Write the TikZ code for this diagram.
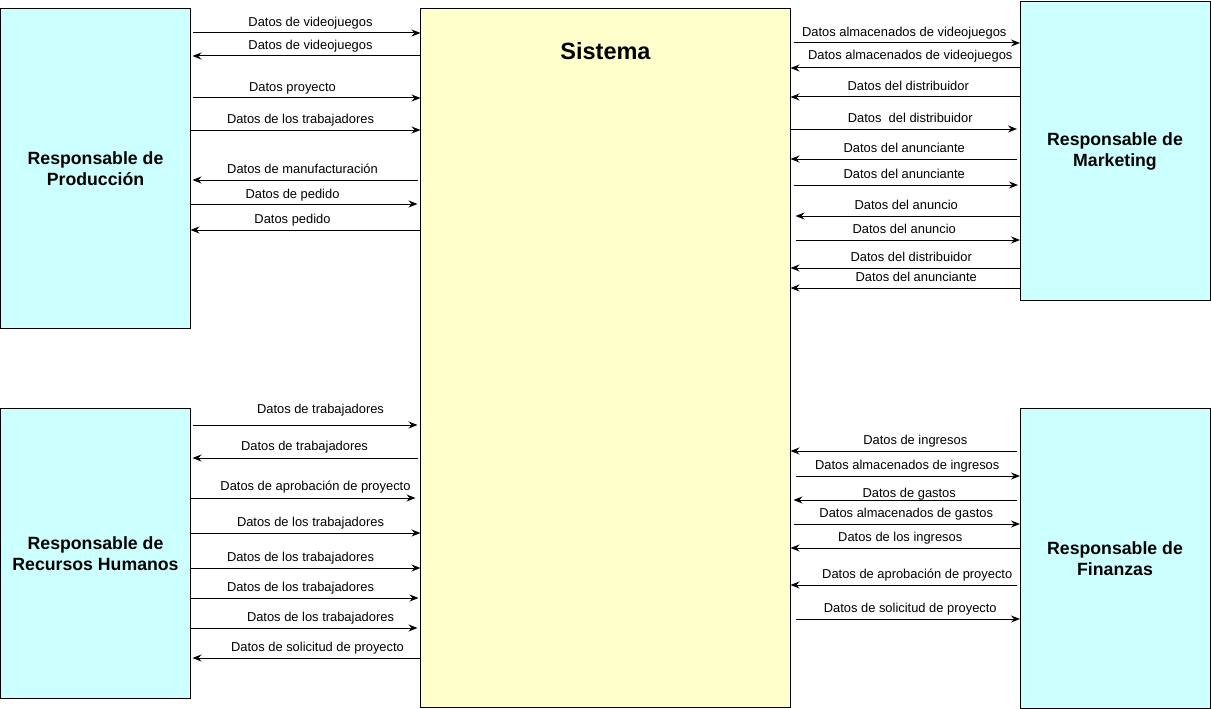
\documentclass[tikz,border=0pt]{standalone}
\usepackage{fontspec}
\setmainfont{Liberation Sans}
\usetikzlibrary{arrows.meta, positioning}
\definecolor{cajacian}{HTML}{CCFFFF}
\definecolor{cajaamarilla}{HTML}{FFFFCC}

\begin{document}
\begin{tikzpicture}[x=1pt, y=-1pt,
		actor/.style={draw, line width=1pt, fill=cajacian, minimum width=190pt, align=center, outer sep=0pt, font=\fontsize{17.7}{21}\selectfont\bfseries},
		sistema/.style={draw, line width=1pt, fill=cajaamarilla, minimum width=370pt, minimum height=699pt, outer sep=0pt},
		flujo/.style={-{Stealth[length=9pt, width=7pt, inset=3pt]}, line width=1pt},
		etiq/.style={anchor=base, yshift=6.5pt, inner sep=0pt, font=\fontsize{12.9}{15}\selectfont}]
			\useasboundingbox (0,0) rectangle (1211,709);
			
			\node[sistema] (sis) at (605.5,358) {};
			\node[font=\fontsize{23.5}{28}\selectfont\bfseries, below=30pt of sis.north] (sistxt) {Sistema};
			\node[actor, minimum height=320pt] (prod) at (95.5,168.5) {Responsable de\\Producción};
			\node[actor, minimum height=290pt] (rrhh) at (95.5,553.5) {Responsable de\\Recursos Humanos};
			\node[actor, minimum height=299pt] (mkt) at (1115,151) {Responsable de\\Marketing};
			\node[actor, minimum height=300pt] (fin) at (1115,558.5) {Responsable de\\Finanzas};
			
			\draw[flujo, shorten <=2pt] (prod.east |- 0,33) -- node[etiq, xshift=5pt] {Datos de videojuegos} (sis.west |- 0,33);
			\draw[flujo, shorten >=2pt] (sis.west |- 0,56) -- node[etiq, xshift=5pt] {Datos de videojuegos} (prod.east |- 0,56);
			\draw[flujo, shorten <=2pt] (prod.east |- 0,98) -- node[etiq, xshift=-13pt] {Datos proyecto} (sis.west |- 0,98);
			\draw[flujo] (prod.east |- 0,130) -- node[etiq, xshift=-5pt] {Datos de los trabajadores} (sis.west |- 0,130);
			\draw[flujo, shorten <=3pt, shorten >=2pt] (sis.west |- 0,180) -- node[etiq, xshift=-3pt] {Datos de manufacturación} (prod.east |- 0,180);
			\draw[flujo, shorten >=3pt] (prod.east |- 0,204) -- node[etiq, xshift=-13pt, yshift=-1pt] {Datos de pedido} (sis.west |- 0,204);
			\draw[flujo] (sis.west |- 0,230) -- node[etiq, xshift=-13pt] {Datos pedido} (prod.east |- 0,230);
			
			\draw[flujo, shorten <=3pt] (sis.east |- 0,43) -- node[etiq, xshift=-1pt] {Datos almacenados de videojuegos} (mkt.west |- 0,43);
			\draw[flujo] (mkt.west |- 0,68) -- node[etiq, xshift=5pt, yshift=2pt] {Datos almacenados de videojuegos} (sis.east |- 0,68);
			\draw[flujo] (mkt.west |- 0,97) -- node[etiq, xshift=3pt] {Datos del distribuidor} (sis.east |- 0,97);
			\draw[flujo, shorten >=3pt] (sis.east |- 0,129) -- node[etiq, xshift=5pt] {Datos\ \ del distribuidor} (mkt.west |- 0,129);
			\draw[flujo, shorten <=3pt] (mkt.west |- 0,159) -- node[etiq, xshift=-1pt] {Datos del anunciante} (sis.east |- 0,159);
			\draw[flujo, shorten <=3pt, shorten >=2pt] (sis.east |- 0,185) -- node[etiq, xshift=-1pt] {Datos del anunciante} (mkt.west |- 0,185);
			\draw[flujo, shorten >=5pt] (mkt.west |- 0,216) -- node[etiq, xshift=1pt] {Datos del anuncio} (sis.east |- 0,216);
			\draw[flujo, shorten <=5pt] (sis.east |- 0,240) -- node[etiq, xshift=-1pt] {Datos del anuncio} (mkt.west |- 0,240);
			\draw[flujo] (mkt.west |- 0,268) -- node[etiq, xshift=6pt] {Datos del distribuidor} (sis.east |- 0,268);
			\draw[flujo] (mkt.west |- 0,288) -- node[etiq, xshift=11pt] {Datos del anunciante} (sis.east |- 0,288);
			
			\draw[flujo, shorten <=2pt, shorten >=3pt] (rrhh.east |- 0,425) -- node[etiq, xshift=15pt, yshift=5pt] {Datos de trabajadores} (sis.west |- 0,425);
			\draw[flujo, shorten <=3pt, shorten >=2pt] (sis.west |- 0,458) -- node[etiq, xshift=-1pt, yshift=1pt] {Datos de trabajadores} (rrhh.east |- 0,458);
			\draw[flujo, shorten >=5pt] (rrhh.east |- 0,498) -- node[etiq, xshift=10pt, yshift=1pt] {Datos de aprobación de proyecto} (sis.west |- 0,498);
			\draw[flujo] (rrhh.east |- 0,533) -- node[etiq, xshift=5pt] {Datos de los trabajadores} (sis.west |- 0,533);
			\draw[flujo] (rrhh.east |- 0,568) -- node[etiq, xshift=-5pt] {Datos de los trabajadores} (sis.west |- 0,568);
			\draw[flujo, shorten >=2pt] (rrhh.east |- 0,598) -- node[etiq, xshift=-5pt] {Datos de los trabajadores} (sis.west |- 0,598);
			\draw[flujo, shorten >=3pt] (rrhh.east |- 0,628) -- node[etiq, xshift=15pt] {Datos de los trabajadores} (sis.west |- 0,628);
			\draw[flujo, shorten >=2pt] (sis.west |- 0,658) -- node[etiq, xshift=12pt] {Datos de solicitud de proyecto} (rrhh.east |- 0,658);
			
			\draw[flujo, shorten <=3pt] (fin.west |- 0,451) -- node[etiq, xshift=10pt] {Datos de ingresos} (sis.east |- 0,451);
			\draw[flujo, shorten <=5pt] (sis.east |- 0,476) -- node[etiq, xshift=2pt] {Datos almacenados de ingresos} (fin.west |- 0,476);
			\draw[flujo, shorten <=3pt, shorten >=3pt] (fin.west |- 0,500) -- node[etiq, xshift=4pt, yshift=-4pt] {Datos de gastos} (sis.east |- 0,500);
			\draw[flujo, shorten <=3pt] (sis.east |- 0,524) -- node[etiq, xshift=1pt] {Datos almacenados de gastos} (fin.west |- 0,524);
			\draw[flujo] (fin.west |- 0,548) -- node[etiq, xshift=-5pt] {Datos de los ingresos} (sis.east |- 0,548);
			\draw[flujo, shorten <=3pt] (fin.west |- 0,585) -- node[etiq, xshift=12pt] {Datos de aprobación de proyecto} (sis.east |- 0,585);
			\draw[flujo, shorten <=5pt] (sis.east |- 0,619) -- node[etiq, xshift=5pt] {Datos de solicitud de proyecto} (fin.west |- 0,619);
		\end{tikzpicture}
\end{document}
